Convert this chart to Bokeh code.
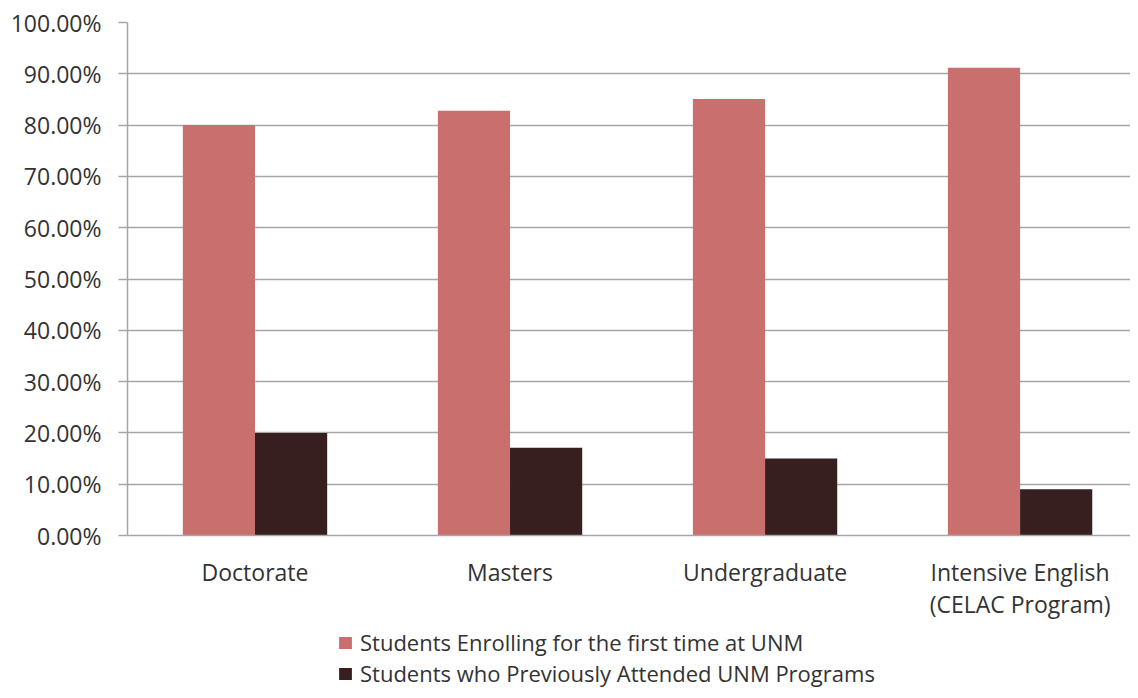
from bokeh.plotting import figure
from bokeh.layouts import column
from bokeh.models import (ColumnDataSource, Range1d, FixedTicker, NumeralTickFormatter,
                          Legend, LegendItem)
from bokeh.transform import dodge
from bokeh.embed import file_html
from bokeh.resources import INLINE

categories = ["Doctorate", "Masters", "Undergraduate", "Intensive English\n(CELAC Program)"]
first_time = [0.80, 0.828, 0.851, 0.912]
previously = [0.20, 0.171, 0.150, 0.090]
series_names = ["Students Enrolling for the first time at UNM",
                "Students who Previously Attended UNM Programs"]
y_ticks = [0.0, 0.1, 0.2, 0.3, 0.4, 0.5, 0.6, 0.7, 0.8, 0.9, 1.0]

PINK = "#C96F6E"
DARK = "#371F1F"
GRID = "#A6A6A6"
TEXT = "#333333"
FONT = "Open Sans"

xpos = [i + 0.5 for i in range(len(categories))]
src = ColumnDataSource(dict(x=xpos, first=first_time, prev=previously))

p = figure(width=1130, height=625, output_backend="svg", toolbar_location=None,
           x_range=Range1d(0, 3.933), y_range=Range1d(0, 1.0),
           min_border_left=127, min_border_right=0, min_border_top=22,
           min_border_bottom=90)
p.outline_line_color = None
p.background_fill_color = "white"
p.border_fill_color = "white"

bw = 0.283
r1 = p.vbar(x=dodge("x", -bw / 2, range=p.x_range), top="first", width=bw, source=src,
            fill_color=PINK, line_color=None)
r2 = p.vbar(x=dodge("x", bw / 2, range=p.x_range), top="prev", width=bw, source=src,
            fill_color=DARK, line_color=None)

# y axis
p.yaxis.ticker = FixedTicker(ticks=y_ticks)
p.yaxis.formatter = NumeralTickFormatter(format="0.00%")
p.yaxis.axis_line_color = GRID
p.yaxis.axis_line_width = 1.5
p.yaxis.major_tick_line_color = GRID
p.yaxis.major_tick_line_width = 1.5
p.yaxis.major_tick_out = 9
p.yaxis.major_tick_in = 0
p.yaxis.minor_tick_line_color = None
p.yaxis.major_label_standoff = 17
p.yaxis.major_label_text_font = FONT
p.yaxis.major_label_text_font_size = "23px"
p.yaxis.major_label_text_color = TEXT

# x axis
p.xaxis.ticker = FixedTicker(ticks=xpos)
p.xaxis.major_label_overrides = {x: c for x, c in zip(xpos, categories)}
p.xaxis.axis_line_color = GRID
p.xaxis.axis_line_width = 1.5
p.xaxis.major_tick_line_color = None
p.xaxis.minor_tick_line_color = None
p.xaxis.major_label_standoff = 14
p.xaxis.major_label_text_font = FONT
p.xaxis.major_label_text_font_size = "23px"
p.xaxis.major_label_text_line_height = 1.0
p.xaxis.major_label_text_color = TEXT

p.xgrid.grid_line_color = None
p.ygrid.ticker = FixedTicker(ticks=y_ticks)
p.ygrid.grid_line_color = GRID
p.ygrid.grid_line_width = 1.5

# legend panel below the chart (swatch renderers are zero-height bars, invisible)
lg = figure(width=1130, height=65, output_backend="svg", toolbar_location=None,
            x_range=Range1d(0, 1), y_range=Range1d(0, 1),
            min_border_left=0, min_border_right=0, min_border_top=0,
            min_border_bottom=0)
lg.axis.visible = False
lg.grid.visible = False
lg.outline_line_color = None
swatch = ColumnDataSource(dict(x=[0.5], top=[0.0]))
d1 = lg.vbar(x="x", top="top", width=0.01, source=swatch, fill_color=PINK, line_color=None)
d2 = lg.vbar(x="x", top="top", width=0.01, source=swatch, fill_color=DARK, line_color=None)

legend = Legend(items=[LegendItem(label=series_names[0], renderers=[d1]),
                       LegendItem(label=series_names[1], renderers=[d2])],
                location=(210, 2), orientation="vertical",
                glyph_width=16, glyph_height=15, label_standoff=7,
                label_height=20, spacing=1, padding=0, margin=0,
                border_line_color=None, background_fill_alpha=0,
                label_text_font=FONT, label_text_font_size="22px",
                label_text_color=TEXT)
lg.add_layout(legend, "center")

layout = column(p, lg, spacing=0)
open("out.html", "w").write(file_html(layout, INLINE))
